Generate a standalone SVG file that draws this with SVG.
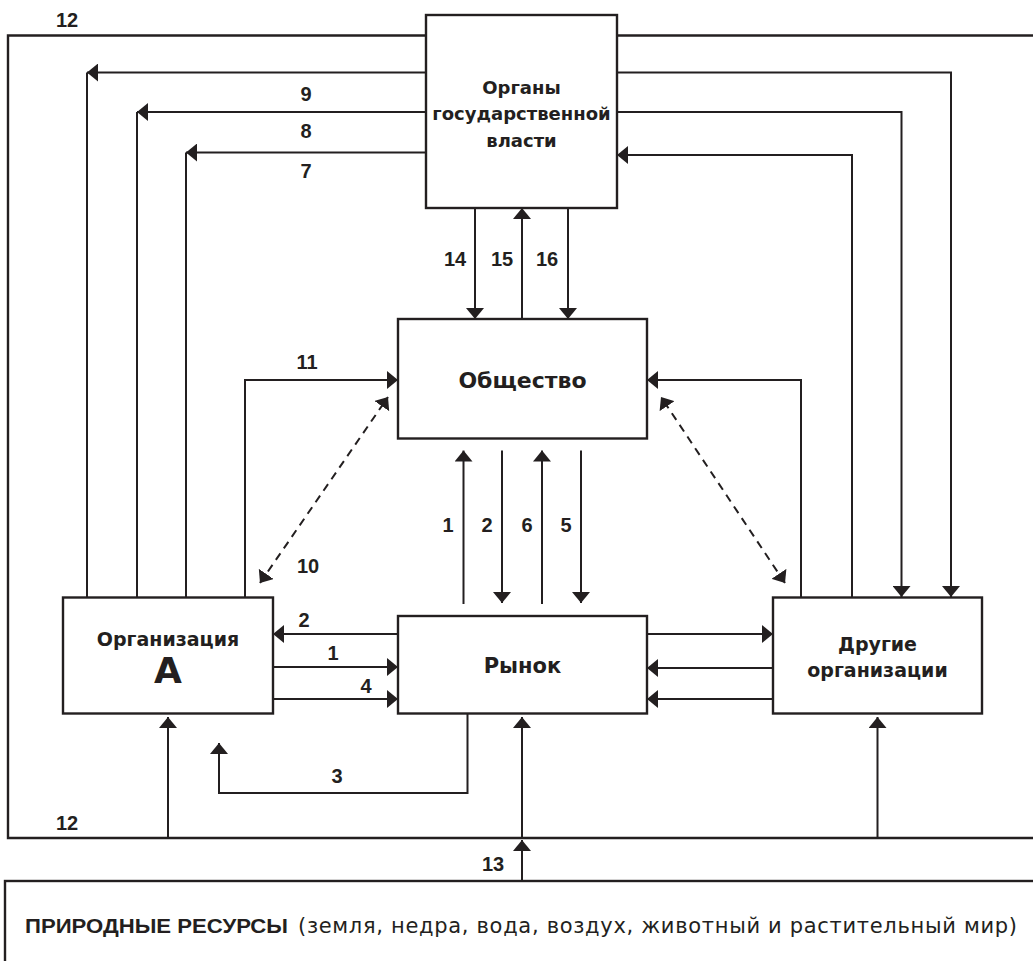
<svg xmlns="http://www.w3.org/2000/svg" width="1033" height="961" viewBox="0 0 1033 961">
<style>
.ln{fill:none;stroke:#231f20;stroke-width:2}
.fr{fill:none;stroke:#231f20;stroke-width:2.4}
.ar{fill:none;stroke:#231f20;stroke-width:2;marker-end:url(#ah)}
.ds{fill:none;stroke:#231f20;stroke-width:2;stroke-dasharray:8 6;marker-start:url(#ah2);marker-end:url(#ah)}
.bx{fill:#fff;stroke:#231f20;stroke-width:2.4}
.t{font-family:"DejaVu Sans",sans-serif;font-weight:bold;fill:#231f20;text-anchor:middle}
.n{font-family:"Liberation Sans",Arial,sans-serif;font-weight:bold;font-size:20px;fill:#231f20;text-anchor:middle}
</style>
<defs>
<marker id="ah" viewBox="0 0 11 18" refX="11" refY="9" markerWidth="11" markerHeight="18" markerUnits="userSpaceOnUse" orient="auto"><path d="M0,0 L11,9 L0,18 z" fill="#231f20"/></marker>
<marker id="ah2" viewBox="0 0 11 18" refX="0" refY="9" markerWidth="11" markerHeight="18" markerUnits="userSpaceOnUse" orient="auto"><path d="M11,0 L0,9 L11,18 z" fill="#231f20"/></marker>
</defs>
<rect width="1033" height="961" fill="#fff"/>
<g id="connectors">
<path class="fr" d="M430,35.5 H8 V838 H1040"/>
<path class="fr" d="M615,35.5 H1040"/>
<path class="ar" d="M426,72.5 H87"/>
<path class="ln" d="M87,72.5 V597"/>
<path class="ar" d="M426,112 H137"/>
<path class="ln" d="M137,112 V597"/>
<path class="ar" d="M426,152.5 H186"/>
<path class="ln" d="M186,152.5 V597"/>
<path class="ar" d="M617,72.5 H951 V597"/>
<path class="ar" d="M617,112 H901.5 V597"/>
<path class="ar" d="M852,597 V155 H617"/>
<path class="ar" d="M475,208 V319"/>
<path class="ar" d="M522,319 V208"/>
<path class="ar" d="M568,208 V319"/>
<path class="ar" d="M245,597 V380 H398"/>
<path class="ar" d="M801,597 V380 H647"/>
<path class="ds" d="M260,583 L388,397"/>
<path class="ds" d="M785,583 L661,397"/>
<path class="ar" d="M463.5,604 V450.5"/>
<path class="ar" d="M502,450.5 V603"/>
<path class="ar" d="M542,604 V450.5"/>
<path class="ar" d="M581,450.5 V603"/>
<path class="ar" d="M398,634 H273"/>
<path class="ar" d="M273,667 H398"/>
<path class="ar" d="M273,699 H398"/>
<path class="ar" d="M647,634 H773"/>
<path class="ar" d="M773,668 H647"/>
<path class="ar" d="M773,699 H647"/>
<path class="ar" d="M467.5,713 V793 H219 V743"/>
<path class="ar" d="M168,838 V717"/>
<path class="ar" d="M522,838 V717"/>
<path class="ar" d="M877.5,838 V717"/>
<path class="ar" d="M522,881 V840"/>
<text class="n" x="67" y="27">12</text>
<text class="n" x="306" y="101">9</text>
<text class="n" x="306" y="138">8</text>
<text class="n" x="306" y="178">7</text>
<text class="n" x="455" y="266">14</text>
<text class="n" x="502" y="266">15</text>
<text class="n" x="547" y="266">16</text>
<text class="n" x="307" y="369">11</text>
<text class="n" x="308" y="573">10</text>
<text class="n" x="448" y="532">1</text>
<text class="n" x="487" y="532">2</text>
<text class="n" x="527" y="532">6</text>
<text class="n" x="566" y="532">5</text>
<text class="n" x="304" y="627">2</text>
<text class="n" x="333" y="660">1</text>
<text class="n" x="366" y="693">4</text>
<text class="n" x="337" y="783">3</text>
<text class="n" x="67" y="830">12</text>
<text class="n" x="493" y="871">13</text>
</g>
<g id="gov">
<rect class="bx" x="426" y="15" width="191" height="193"/>
<text class="t" x="521.5" y="94" font-size="18">Органы</text>
<text class="t" x="521.5" y="120" font-size="18">государственной</text>
<text class="t" x="521.5" y="147" font-size="18">власти</text>
</g>
<g id="society">
<rect class="bx" x="398" y="319" width="249" height="119.5"/>
<text class="t" x="522.5" y="388" font-size="22">Общество</text>
</g>
<g id="orgA">
<rect class="bx" x="63" y="597.5" width="210" height="116"/>
<text class="t" x="168" y="646" font-size="19">Организация</text>
<text class="t" x="168" y="683" font-size="36">A</text>
</g>
<g id="market">
<rect class="bx" x="398" y="616" width="249" height="97.5"/>
<text class="t" x="522.5" y="673" font-size="21">Рынок</text>
</g>
<g id="others">
<rect class="bx" x="773" y="597.5" width="209" height="116"/>
<text class="t" x="877.5" y="651" font-size="19">Другие</text>
<text class="t" x="877.5" y="677" font-size="19">организации</text>
</g>
<g id="nature">
<rect class="bx" x="5" y="881" width="1040" height="100"/>
<text x="25" y="933" font-family="Liberation Sans, Arial, sans-serif" font-size="21" font-weight="bold" fill="#231f20" textLength="263" lengthAdjust="spacingAndGlyphs">ПРИРОДНЫЕ РЕСУРСЫ</text>
<text x="298" y="933" font-family="DejaVu Sans, sans-serif" font-size="21" fill="#231f20" textLength="719" lengthAdjust="spacing">(земля, недра, вода, воздух, животный и растительный мир)</text>
</g>
</svg>
